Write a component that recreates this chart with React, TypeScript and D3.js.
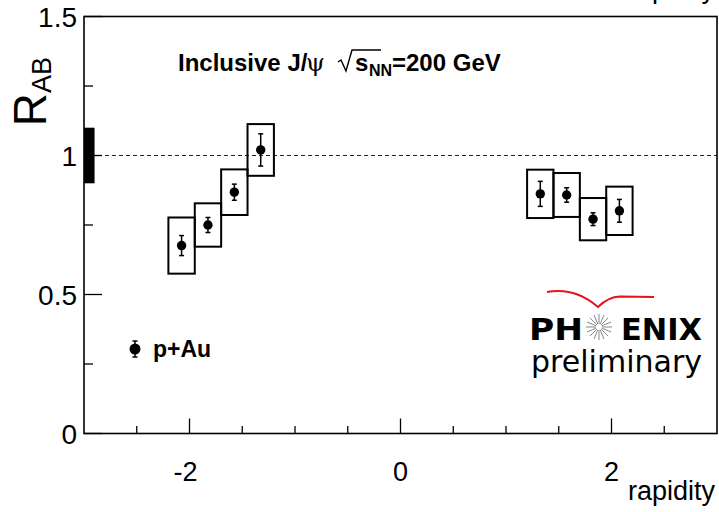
import React from "react";
import * as d3 from "d3";

// ---- data ----
const rapidity = [-2.075, -1.825, -1.575, -1.325, 1.325, 1.575, 1.825, 2.075];
const rab = [0.676, 0.75, 0.868, 1.02, 0.862, 0.858, 0.771, 0.801];
const statErr = [0.036, 0.027, 0.029, 0.058, 0.045, 0.026, 0.023, 0.041];
const sysErr = [0.101, 0.078, 0.082, 0.093, 0.087, 0.079, 0.076, 0.087];
const binHalfWidth = 0.125;
const globalErr = 0.1;
const globalBoxX = [-3, -2.9];
const xMajorTicks = [-2, 0, 2];
const xMinorTicks = [-2.5, -1.5, -1, -0.5, 0.5, 1, 1.5, 2.5];
const yMajorTicks = [0, 0.5, 1, 1.5];
const yMinorTicks = [0.25, 0.75, 1.25];
const yTickLabels = ["0", "0.5", "1", "1.5"];
const xTickLabels = ["-2", "0", "2"];

const W = 719;
const H = 512;
const L = 84, R = 717, T = 16.5, B = 433.5;
const FONT = "'Liberation Sans', Arial, Helvetica, sans-serif";

export default function App() {
  const x = d3.scaleLinear().domain([-3, 3]).range([L, R]);
  const y = d3.scaleLinear().domain([0, 1.5]).range([B, T]);

  const star = d3.range(16).map((i) => ({ a: (i / 16) * Math.PI * 2 }));
  const sc = { x: 599, y: 327 };

  return (
    <div style={{ position: "fixed", left: 0, top: 0, width: W, height: H, background: "#fff" }}>
      <svg width={W} height={H} style={{ display: "block" }} fontFamily={FONT}>
        <rect x={0} y={0} width={W} height={H} fill="#fff" />

        {/* dashed line at 1 */}
        <line x1={L} x2={R} y1={y(1)} y2={y(1)} stroke="#222" strokeWidth={1} strokeDasharray="4,3" />

        {/* global uncertainty */}
        <rect
          x={x(globalBoxX[0])}
          width={x(globalBoxX[1]) - x(globalBoxX[0])}
          y={y(1 + globalErr)}
          height={y(1 - globalErr) - y(1 + globalErr)}
          fill="#000"
        />

        {/* systematic boxes */}
        {rapidity.map((r, i) => (
          <rect
            key={"b" + i}
            x={x(r - binHalfWidth)}
            width={x(r + binHalfWidth) - x(r - binHalfWidth)}
            y={y(rab[i] + sysErr[i])}
            height={y(rab[i] - sysErr[i]) - y(rab[i] + sysErr[i])}
            fill="none"
            stroke="#000"
            strokeWidth={2}
          />
        ))}

        {/* stat errors + points */}
        {rapidity.map((r, i) => {
          const cx = x(r);
          const y1 = y(rab[i] + statErr[i]);
          const y2 = y(rab[i] - statErr[i]);
          return (
            <g key={"p" + i}>
              <line x1={cx} x2={cx} y1={y1} y2={y2} stroke="#000" strokeWidth={1.5} />
              <line x1={cx - 2.5} x2={cx + 2.5} y1={y1} y2={y1} stroke="#000" strokeWidth={1.5} />
              <line x1={cx - 2.5} x2={cx + 2.5} y1={y2} y2={y2} stroke="#000" strokeWidth={1.5} />
              <circle cx={cx} cy={y(rab[i])} r={4.7} fill="#000" />
            </g>
          );
        })}

        {/* frame */}
        <rect x={L} y={T} width={R - L} height={B - T} fill="none" stroke="#000" strokeWidth={1.6} />

        {/* x ticks */}
        {xMajorTicks.map((t) => (
          <line key={"xM" + t} x1={x(t)} x2={x(t)} y1={B} y2={B - 15} stroke="#000" strokeWidth={1.3} />
        ))}
        {xMinorTicks.map((t) => (
          <line key={"xm" + t} x1={x(t)} x2={x(t)} y1={B} y2={B - 7.5} stroke="#000" strokeWidth={1.3} />
        ))}
        {xMajorTicks.map((t, i) => (
          <text key={"xl" + t} x={x(t) - (t < 0 ? 4 : 0)} y={481} fontSize={27} textAnchor="middle" fill="#000">
            {xTickLabels[i]}
          </text>
        ))}
        <text x={R - 2} y={500} fontSize={27} textAnchor="end" fill="#000">rapidity</text>
        <text x={R - 2} y={-2} fontSize={27} textAnchor="end" fill="#000">rapidity</text>

        {/* y ticks */}
        {yMajorTicks.map((t) => (
          <line key={"yM" + t} x1={L} x2={L + 18} y1={y(t)} y2={y(t)} stroke="#000" strokeWidth={1.3} />
        ))}
        {yMinorTicks.map((t) => (
          <line key={"ym" + t} x1={L} x2={L + 9} y1={y(t)} y2={y(t)} stroke="#000" strokeWidth={1.3} />
        ))}
        {yMajorTicks.map((t, i) => (
          <text key={"yl" + t} x={77} y={y(t) + 10} fontSize={28} textAnchor="end" fill="#000">
            {yTickLabels[i]}
          </text>
        ))}

        {/* y axis title */}
        <text transform="translate(46,57) rotate(-90)" textAnchor="end" fill="#000">
          <tspan fontSize={46}>R</tspan>
          <tspan fontSize={27} dy={5}>AB</tspan>
        </text>

        {/* title */}
        <g fill="#000" fontWeight="bold" fontSize={24}>
          <text x={178} y={71}>Inclusive J/</text>
          <text x={306} y={71} fontWeight="normal" fontFamily="'DejaVu Serif', 'Liberation Serif', serif">ψ</text>
          <path d="M338,62 L341,60 L346,71 L352,50 L381,50" fill="none" stroke="#000" strokeWidth={1.4} />
          <text x={355} y={71}>s</text>
          <text x={369} y={76} fontSize={16}>NN</text>
          <text x={392} y={71}>=200 GeV</text>
        </g>

        {/* legend */}
        <g>
          <line x1={135} x2={135} y1={341} y2={357} stroke="#000" strokeWidth={1.5} />
          <line x1={132.5} x2={137.5} y1={341} y2={341} stroke="#000" strokeWidth={1.5} />
          <line x1={132.5} x2={137.5} y1={357} y2={357} stroke="#000" strokeWidth={1.5} />
          <circle cx={135} cy={349} r={5.5} fill="#000" />
          <text x={153} y={357} fontSize={23} fontWeight="bold" fill="#000">p+Au</text>
        </g>

        {/* PHENIX preliminary logo */}
        <g fontFamily="'DejaVu Sans', Verdana, sans-serif">
          <path
            d="M547,292 Q575,287 598,307 Q608,297 620,296.5 L654,297"
            fill="none"
            stroke="#e3141b"
            strokeWidth={2}
          />
          <text x={529} y={340} fontSize={31} fontWeight="bold" textLength={54} lengthAdjust="spacingAndGlyphs" fill="#000">PH</text>
          {star.map((s, i) => (
            <line
              key={"s" + i}
              x1={sc.x + 3 * Math.cos(s.a)}
              y1={sc.y + 3 * Math.sin(s.a)}
              x2={sc.x + 13 * Math.cos(s.a)}
              y2={sc.y + 13 * Math.sin(s.a)}
              stroke="#888"
              strokeWidth={1}
            />
          ))}
          <text x={621} y={340} fontSize={31} fontWeight="bold" textLength={81} lengthAdjust="spacingAndGlyphs" fill="#000">ENIX</text>
          <text x={531} y={372} fontSize={30} textLength={171} fill="#000">preliminary</text>
        </g>
      </svg>
    </div>
  );
}
